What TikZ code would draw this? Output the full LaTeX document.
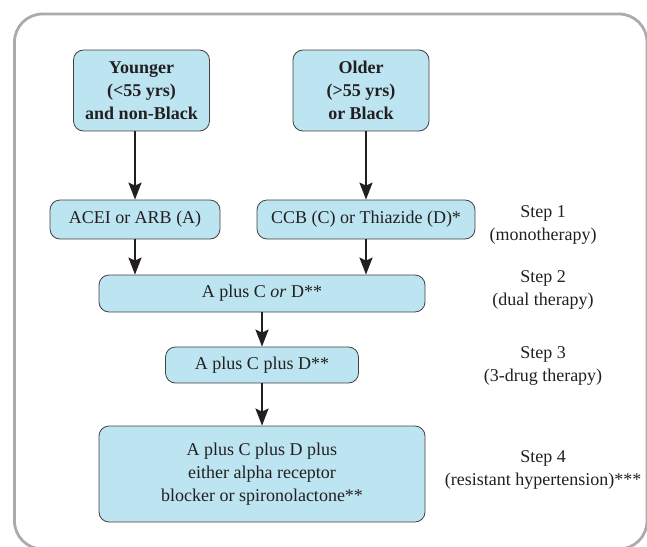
\documentclass[tikz,border=0pt]{standalone}
\usepackage{fontspec}
\setmainfont{Liberation Serif}
\usetikzlibrary{arrows.meta}

\definecolor{boxblue}{HTML}{BCE4F1}
\definecolor{framegray}{HTML}{A9ABAE}
\definecolor{ink}{HTML}{231F20}
\newcommand{\boxfont}{\fontsize{18}{23}\selectfont}

\begin{document}
\begin{tikzpicture}[x=1pt,y=-1pt,
    arr/.style={-{Stealth[length=17pt,width=13pt,inset=3pt]},line width=2.3pt,draw=ink},
    every node/.style={font=\boxfont,text=ink}]
\useasboundingbox (0,0) rectangle (647,546);
\draw[framegray,line width=2.8pt,rounded corners=28pt] (14.5,14) rectangle (647,549);

\begin{scope}[every node/.style={rectangle,rounded corners=10pt,draw=ink!85,line width=0.8pt,
    fill=boxblue,text=ink,align=center,inner sep=0pt,font=\boxfont}]
    \node[minimum width=136pt,minimum height=81pt,font=\boxfont\bfseries] (1) at (141.5,90.5) {Younger\\(<55 yrs)\\and non-Black};
    \node[minimum width=136pt,minimum height=81pt,font=\boxfont\bfseries] (2) at (361,90.5) {Older\\(>55 yrs)\\or Black};
    \node[minimum width=170pt,minimum height=39pt] (3) at (135,219.5) {ACEI or ARB (A)};
    \node[minimum width=218pt,minimum height=39pt] (4) at (366,219.5) {CCB (C) or Thiazide (D)*};
    \node[minimum width=326pt,minimum height=37pt] (5) at (262,293.5) {A plus C \textit{or} D**};
    \node[minimum width=193pt,minimum height=36pt] (6) at (262,365) {A plus C plus D**};
    \node[minimum width=326pt,minimum height=96pt] (7) at (262,474) {A plus C plus D plus\\either alpha receptor\\blocker or spironolactone**};
\end{scope}

\begin{scope}[every node/.style={align=center,text=ink,font=\boxfont}]
    \node (s1) at (543,225) {Step 1\\(monotherapy)};
    \node (s2) at (543,290) {Step 2\\(dual therapy)};
    \node (s3) at (543,366) {Step 3\\(3-drug therapy)};
    \node (s4) at (543,470) {Step 4\\(resistant hypertension)***};
\end{scope}

\draw[arr] (1.south -| 3) -- (3);
\draw[arr] (2.south -| 4) -- (4);
\draw[arr] (3) -- (5.north -| 3);
\draw[arr] (4) -- (5.north -| 4);
\draw[arr] (5) -- (6);
\draw[arr] (6) -- (7);

\end{tikzpicture}
\end{document}
